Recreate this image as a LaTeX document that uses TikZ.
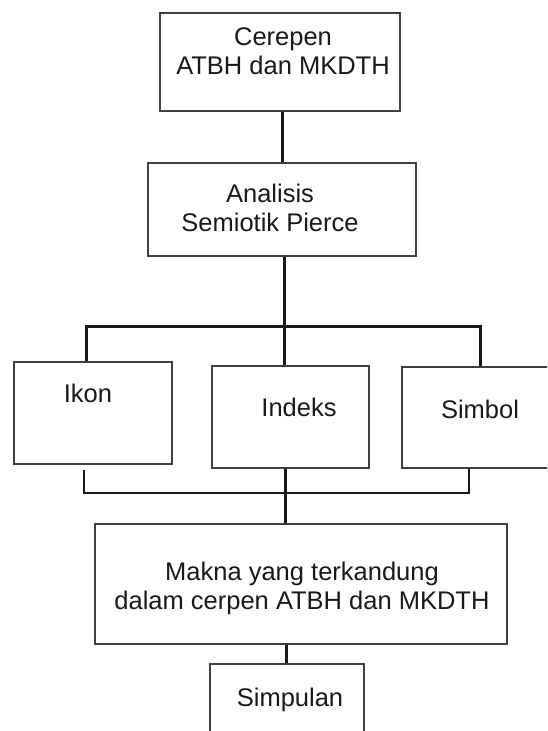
\documentclass[tikz,border=0pt]{standalone}
\usepackage{fontspec}
\setmainfont{Liberation Sans}
\tikzset{
    box/.style={draw=black!75, line width=1.1pt, rectangle, inner sep=0pt},
    txt/.style={align=center, text=black!90, font=\fontsize{25.5}{29}\selectfont},
    thicklink/.style={line width=3pt, black!90},
    thinlink/.style={line width=2.2pt, black!90}
}
\begin{document}
\begin{tikzpicture}[x=1pt, y=-1pt]
        \useasboundingbox (0,0) rectangle (547,731);
        \clip (0,0) rectangle (547,731);

        \node[box, minimum width=240pt, minimum height=98pt] (cerepen) at (280,62) {};
        \node[box, minimum width=268pt, minimum height=93pt] (analisis) at (282,209.5) {};
        \node[box, minimum width=158pt, minimum height=102pt] (ikon) at (93,413) {};
        \node[box, minimum width=157pt, minimum height=102pt] (indeks) at (290.5,417) {};
        \node[box, minimum width=150pt, minimum height=101pt] (simbol) at (477,417.5) {};
        \node[box, minimum width=412pt, minimum height=120pt] (makna) at (301,584) {};
        \node[box, minimum width=154pt, minimum height=90pt] (simpulan) at (287,709) {};

        \node[txt] (cerepentext) at (283,51) {Cerepen\\ATBH dan MKDTH};
        \node[txt] (analisistext) at (270,208) {Analisis\\Semiotik Pierce};
        \node[txt] (ikontext) at (88,393) {Ikon};
        \node[txt] (indekstext) at (299,407) {Indeks};
        \node[txt] (simboltext) at (480,409) {Simbol};
        \node[txt] (maknatext) at (302,588) {Makna yang terkandung\\dalam cerpen ATBH dan MKDTH};
        \node[txt] (simpulantext) at (290,700) {Simpulan};

        \coordinate (topL) at (86,326);
        \coordinate (topM) at (284,326);
        \coordinate (topR) at (480,326);
        \coordinate (botL) at (84,493);
        \coordinate (botM) at (285,493);
        \coordinate (botR) at (469,493);
        \coordinate (ikonstub) at (84,470);

        \draw[thicklink] (cerepen.south -| 282,0) -- (analisis.north -| 282,0);
        \draw[thicklink] (analisis.south -| topM) -- (indeks.north -| topM);
        \draw[thicklink] (ikon.north -| topL) -- (topL) -- (topR) -- (simbol.north -| topR);

        \draw[thinlink] (ikonstub) -- (botL) -- (botR) -- (simbol.south -| botR);
        \draw[thicklink] (indeks.south -| botM) -- (makna.north -| botM);
        \draw[thicklink] (makna.south -| 286,0) -- (simpulan.north -| 286,0);
\end{tikzpicture}
\end{document}
